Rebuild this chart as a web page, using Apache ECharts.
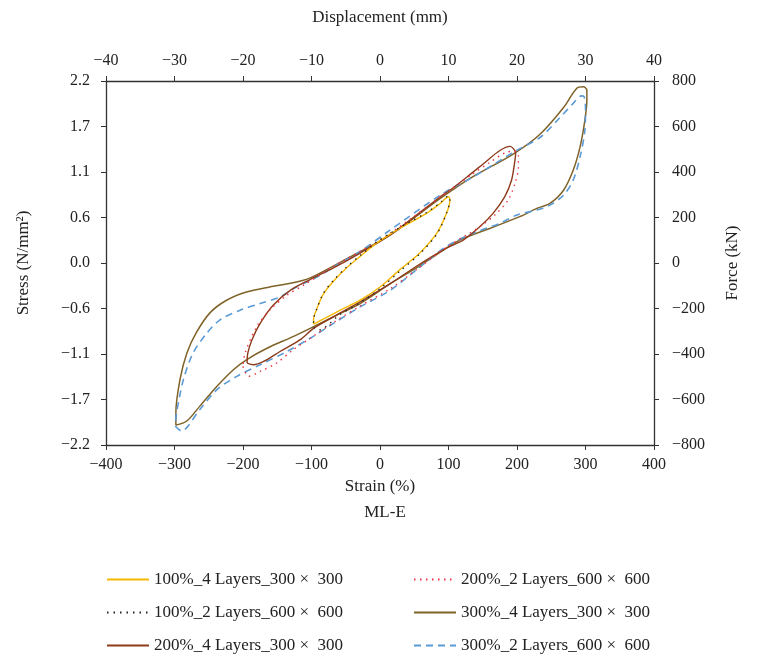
<!DOCTYPE html>
<html>
<head>
<meta charset="utf-8">
<script src="https://cdn.jsdelivr.net/npm/echarts@6/dist/echarts.min.js"></script>
<style>
  html, body { margin: 0; padding: 0; background: #fff; }
  #chart { width: 757px; height: 659px; }
</style>
</head>
<body>
<div id="chart"></div>
<script>
// tick labels
var strainTicks = [-400, -300, -200, -100, 0, 100, 200, 300, 400];
var dispTicks = [-40, -30, -20, -10, 0, 10, 20, 30, 40];
var stressTickLabels = ['-2.2', '-1.7', '-1.1', '-0.6', '0.0', '0.6', '1.1', '1.7', '2.2'];
var forceTicks = [-800, -600, -400, -200, 0, 200, 400, 600, 800];

var seriesNames = [
  '100%_4 Layers_300 ×  300',
  '100%_2 Layers_600 ×  600',
  '200%_4 Layers_300 ×  300',
  '200%_2 Layers_600 ×  600',
  '300%_4 Layers_300 ×  300',
  '300%_2 Layers_600 ×  600'
];

// 100%_4 Layers (strain %, stress N/mm2)
var strain100_4 = [-97, -88, -58, -29, 0, 29, 58, 83, 97, 102, 100, 88, 68, 40, 15, -5, -29, -49, -68, -83, -92, -97, -97];
var stress100_4 = [-0.74, -0.70, -0.57, -0.45, -0.29, -0.08, 0.12, 0.36, 0.60, 0.76, 0.80, 0.72, 0.60, 0.47, 0.35, 0.24, 0.08, -0.06, -0.22, -0.38, -0.55, -0.68, -0.74];
// 100%_2 Layers
var strain100_2 = [-97, -90, -58, -29, 0, 29, 58, 83, 97, 102, 100, 88, 68, 40, 15, -5, -29, -49, -68, -83, -92, -97, -97];
var stress100_2 = [-0.78, -0.81, -0.62, -0.48, -0.31, -0.10, 0.11, 0.35, 0.60, 0.76, 0.81, 0.73, 0.61, 0.48, 0.36, 0.25, 0.09, -0.05, -0.21, -0.37, -0.55, -0.69, -0.78];
// 200%_4 Layers
var strain200_4 = [-194, -185, -170, -146, -117, -97, -68, -29, 15, 55, 97, 122, 146, 165, 182, 192, 197, 198, 195, 190, 175, 151, 127, 102, 88, 15, -29, -68, -102, -131, -156, -175, -187, -193, -194];
var stress200_4 = [-1.21, -1.23, -1.19, -1.07, -0.93, -0.79, -0.65, -0.47, -0.25, -0.03, 0.18, 0.28, 0.44, 0.60, 0.80, 1.00, 1.24, 1.33, 1.38, 1.41, 1.36, 1.20, 1.04, 0.88, 0.80, 0.34, 0.12, -0.06, -0.20, -0.33, -0.51, -0.73, -0.93, -1.09, -1.21];
// 200%_2 Layers
var strain200_2 = [-200, -192, -175, -151, -127, -102, -68, -29, 15, 55, 97, 146, 170, 187, 197, 202, 202, 198, 185, 161, 136, 102, 15, -29, -68, -112, -136, -161, -180, -197, -200];
var stress200_2 = [-1.25, -1.37, -1.31, -1.21, -1.05, -0.91, -0.72, -0.52, -0.31, -0.07, 0.19, 0.44, 0.60, 0.76, 0.96, 1.16, 1.30, 1.35, 1.34, 1.22, 1.08, 0.88, 0.36, 0.14, -0.04, -0.27, -0.39, -0.57, -0.77, -1.09, -1.25];
// 300%_4 Layers
var strain300_4 = [-298, -282, -263, -238, -214, -195, -165, -127, -97, -68, -29, 15, 55, 97, 117, 161, 204, 229, 248, 268, 282, 292, 299, 302, 302, 297, 287, 268, 234, 195, 131, 88, 15, -49, -102, -127, -161, -195, -224, -248, -268, -282, -292, -298, -298];
var stress300_4 = [-1.96, -1.91, -1.73, -1.49, -1.29, -1.17, -1.03, -0.89, -0.77, -0.65, -0.49, -0.25, -0.05, 0.18, 0.28, 0.42, 0.56, 0.66, 0.72, 0.88, 1.12, 1.40, 1.72, 1.97, 2.09, 2.13, 2.11, 1.88, 1.56, 1.32, 1.02, 0.78, 0.34, 0.05, -0.18, -0.24, -0.29, -0.35, -0.45, -0.60, -0.84, -1.09, -1.41, -1.81, -1.96];
// 300%_2 Layers
var strain300_2 = [-299, -290, -263, -238, -209, -175, -136, -102, -68, -29, 15, 55, 97, 136, 175, 200, 229, 248, 268, 282, 292, 299, 300, 298, 294, 282, 263, 234, 195, 136, 88, 15, -29, -58, -92, -122, -146, -175, -204, -234, -253, -273, -287, -297, -299];
var stress300_2 = [-1.97, -2.03, -1.77, -1.53, -1.37, -1.23, -1.07, -0.91, -0.73, -0.53, -0.33, -0.07, 0.20, 0.36, 0.48, 0.58, 0.64, 0.70, 0.82, 1.00, 1.28, 1.60, 1.88, 2.01, 2.02, 1.93, 1.76, 1.52, 1.34, 1.04, 0.82, 0.40, 0.14, 0.00, -0.17, -0.29, -0.41, -0.49, -0.57, -0.69, -0.85, -1.09, -1.41, -1.81, -1.97];

function pairs(xs, ys) {
  return xs.map(function (x, i) { return [x, ys[i]]; });
}
function minus(v) {
  return String(v).replace('-', '\u2212');
}

var font = 'Liberation Serif';
var axisCol = '#333';

var myChart = echarts.init(document.getElementById('chart'));

var legendBase = {
  orient: 'vertical', top: 570, padding: 0, itemGap: 14,
  itemWidth: 42, itemHeight: 14,
  itemStyle: { opacity: 0 },
  textStyle: { fontFamily: font, fontSize: 17, color: '#222', lineHeight: 19 }
};

var option = {
  backgroundColor: '#fff',
  animation: false,
  title: {
    text: 'ML-E',
    left: 380,
    top: 499,
    textAlign: 'center',
    textStyle: { fontFamily: font, fontSize: 17, fontWeight: 'normal', color: '#222' }
  },
  grid: { left: 106, right: 103, top: 81, bottom: 214 },
  legend: [
    Object.assign({}, legendBase, { left: 106, data: seriesNames.slice(0, 3) }),
    Object.assign({}, legendBase, { left: 413, data: seriesNames.slice(3) })
  ],
  xAxis: [
    {
      type: 'value', position: 'bottom',
      min: strainTicks[0], max: strainTicks[strainTicks.length - 1], interval: 100,
      name: 'Strain (%)', nameLocation: 'middle', nameGap: 28,
      nameTextStyle: { fontFamily: font, fontSize: 17, color: '#222' },
      axisLine: { onZero: false, lineStyle: { color: axisCol, width: 1.3 } },
      axisTick: { inside: false, length: 5, lineStyle: { color: axisCol } },
      axisLabel: { fontFamily: font, fontSize: 16, color: '#222', margin: 12, formatter: minus },
      splitLine: { show: false }
    },
    {
      type: 'value', position: 'top',
      min: dispTicks[0], max: dispTicks[dispTicks.length - 1], interval: 10,
      name: 'Displacement (mm)', nameLocation: 'middle', nameGap: 55,
      nameTextStyle: { fontFamily: font, fontSize: 17, color: '#222' },
      axisLine: { onZero: false, lineStyle: { color: axisCol, width: 1.3 } },
      axisTick: { inside: false, length: 5, lineStyle: { color: axisCol } },
      axisLabel: { fontFamily: font, fontSize: 16, color: '#222', margin: 12, formatter: minus },
      splitLine: { show: false }
    }
  ],
  yAxis: [
    {
      type: 'value', position: 'left',
      min: -2.2, max: 2.2, interval: 0.55,
      name: 'Stress (N/mm\u00b2)', nameLocation: 'middle', nameGap: 74,
      nameTextStyle: { fontFamily: font, fontSize: 17, color: '#222' },
      axisLine: { onZero: false, lineStyle: { color: axisCol, width: 1.3 } },
      axisTick: { inside: false, length: 5, lineStyle: { color: axisCol } },
      axisLabel: {
        fontFamily: font, fontSize: 16, color: '#222', margin: 16,
        formatter: function (v, i) { return minus(stressTickLabels[i]); }
      },
      splitLine: { show: false }
    },
    {
      type: 'value', position: 'right',
      min: forceTicks[0], max: forceTicks[forceTicks.length - 1], interval: 200,
      name: 'Force (kN)', nameLocation: 'middle', nameGap: 70,
      nameTextStyle: { fontFamily: font, fontSize: 17, color: '#222' },
      axisLine: { onZero: false, lineStyle: { color: axisCol, width: 1.3 } },
      axisTick: { inside: false, length: 5, lineStyle: { color: axisCol } },
      axisLabel: { fontFamily: font, fontSize: 16, color: '#222', margin: 18, formatter: minus },
      splitLine: { show: false }
    }
  ],
  series: [
    {
      name: seriesNames[4], type: 'line', showSymbol: false, symbol: 'none', smooth: 0.3, z: 2,
      data: pairs(strain300_4, stress300_4),
      lineStyle: { color: '#7f6227', width: 1.5 }, itemStyle: { color: '#7f6227' }
    },
    {
      name: seriesNames[5], type: 'line', showSymbol: false, symbol: 'none', smooth: 0.3, z: 3,
      data: pairs(strain300_2, stress300_2),
      lineStyle: { color: '#5b9bd5', width: 1.6, type: [7, 5] }, itemStyle: { color: '#5b9bd5' }
    },
    {
      name: seriesNames[2], type: 'line', showSymbol: false, symbol: 'none', smooth: 0.3, z: 4,
      data: pairs(strain200_4, stress200_4),
      lineStyle: { color: '#8e3b1c', width: 1.4 }, itemStyle: { color: '#8e3b1c' }
    },
    {
      name: seriesNames[3], type: 'line', showSymbol: false, symbol: 'none', smooth: 0.3, z: 5,
      data: pairs(strain200_2, stress200_2),
      lineStyle: { color: '#ee3344', width: 1.4, type: [1.5, 4.5] }, itemStyle: { color: '#ee3344' }
    },
    {
      name: seriesNames[0], type: 'line', showSymbol: false, symbol: 'none', smooth: 0.3, z: 6,
      data: pairs(strain100_4, stress100_4),
      lineStyle: { color: '#f5b800', width: 1.4 }, itemStyle: { color: '#f5b800' }
    },
    {
      name: seriesNames[1], type: 'line', showSymbol: false, symbol: 'none', smooth: 0.3, z: 7,
      data: pairs(strain100_2, stress100_2),
      lineStyle: { color: '#222', width: 1.3, type: [1.5, 5] }, itemStyle: { color: '#222' }
    }
  ]
};

myChart.setOption(option);
</script>
</body>
</html>
